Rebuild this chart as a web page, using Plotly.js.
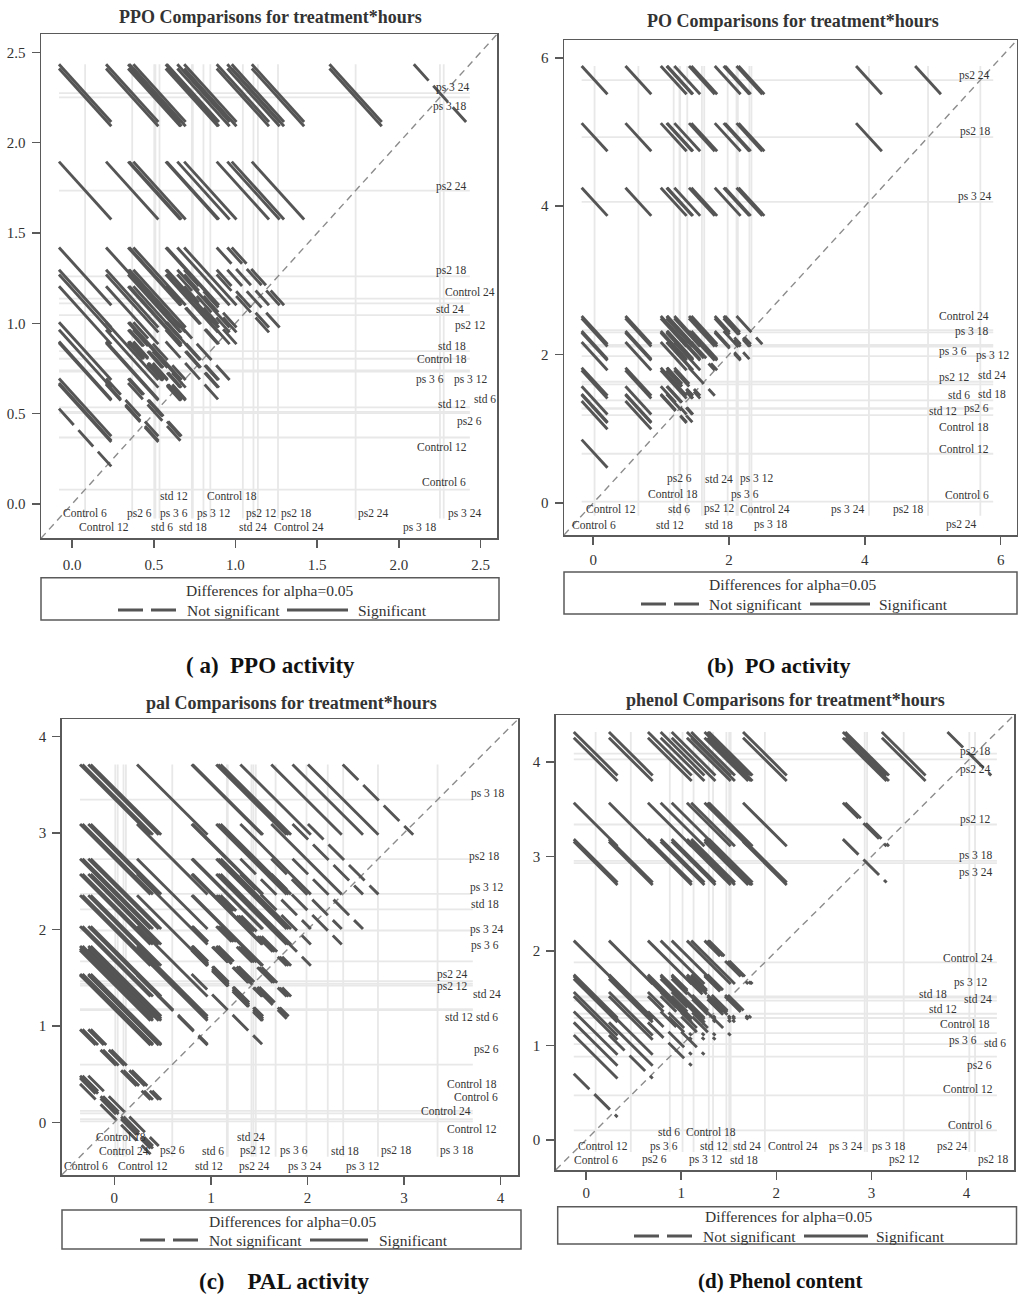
<!DOCTYPE html>
<html><head><meta charset="utf-8">
<script src="https://cdn.plot.ly/plotly-3.0.1.min.js"></script>
<style>html,body{margin:0;padding:0;background:#fff}#chart{width:1018px;height:1296px}</style>
</head><body><div id="chart"></div>
<script>
// ---------- data (LS-means per treatment*hours level) ----------
const levels = ['Control 6','Control 12','Control 18','Control 24','ps2 6','ps2 12','ps2 18','ps2 24',
                'ps 3 6','ps 3 12','ps 3 18','ps 3 24','std 6','std 12','std 18','std 24'];
const ppoMeans    = [0.08, 0.368, 0.804, 1.137, 0.503, 1.045, 1.26, 1.735, 0.739, 0.733, 2.251, 2.274, 0.51, 0.535, 0.846, 1.11];
const poMeans     = [0.02, 0.665, 1.185, 2.33, 1.28, 1.635, 4.93, 5.70, 2.13, 2.11, 2.30, 4.06, 1.385, 1.27, 1.60, 1.98];
const palMeans    = [0.095, 0.01, 0.12, 0.035, 0.60, 1.44, 2.73, 1.465, 1.67, 2.37, 3.347, 1.99, 1.165, 1.175, 2.21, 1.42];
const phenolMeans = [0.10, 0.47, 1.29, 1.88, 0.88, 3.34, 4.09, 4.03, 1.13, 1.505, 2.955, 2.93, 1.014, 1.335, 1.475, 1.52];
// half-width of the 95% confidence interval of a difference
const ppoCI = 0.32, poCI = 0.38, palCI = 0.73, phenolCI = 0.46;
const titles = ['PPO Comparisons for treatment*hours','PO Comparisons for treatment*hours',
                'pal Comparisons for treatment*hours','phenol Comparisons for treatment*hours'];
const captions = ['(\u00a0a)\u00a0\u00a0PPO activity','(b)\u00a0\u00a0PO activity','(c)\u00a0\u00a0\u00a0\u00a0PAL activity','(d) Phenol content'];
const tickValsA = [0,0.5,1,1.5,2,2.5];
const tickValsB = [0,2,4,6];
const tickValsC = [0,1,2,3,4];
const tickValsD = [0,1,2,3,4];

// ---------- label placement (data coords of each label's centre) ----------
const labelsA = [['ps 3 24',2.325,2.304],['ps 3 18',2.31,2.199],['ps2 24',2.32,1.755],['ps2 18',2.32,1.293],['Control 24',2.433,1.173],['std 24',2.31,1.081],['ps2 12',2.437,0.988],['std 18',2.327,0.877],['Control 18',2.264,0.804],['ps 3 6',2.19,0.687],['ps 3 12',2.437,0.687],['std 6',2.525,0.582],['std 12',2.325,0.554],['ps2 6',2.433,0.456],['Control 12',2.264,0.314],['Control 6',2.278,0.12],
 ['std 12',0.626,0.043],['Control 18',0.977,0.043],
 ['Control 6',0.08,-0.05],['ps2 6',0.412,-0.05],['ps 3 6',0.626,-0.05],['ps 3 12',0.865,-0.05],['ps2 12',1.157,-0.05],['ps2 18',1.375,-0.05],['ps2 24',1.845,-0.05],['ps 3 24',2.402,-0.05],
 ['Control 12',0.198,-0.129],['std 6',0.549,-0.129],['std 18',0.739,-0.129],['std 24',1.106,-0.129],['Control 24',1.386,-0.129],['ps 3 18',2.123,-0.129]];
const labelsB = [['ps2 24',5.613,5.761],['ps2 18',5.623,5.011],['ps 3 24',5.613,4.127],['Control 24',5.466,2.527],['ps 3 18',5.574,2.307],['ps 3 6',5.294,2.046],['ps 3 12',5.873,1.988],['ps2 12',5.319,1.687],['std 24',5.873,1.732],['std 6',5.382,1.462],['std 18',5.873,1.471],['std 12',5.157,1.237],['ps2 6',5.638,1.27],['Control 18',5.466,1.027],['Control 12',5.466,0.735],['Control 6',5.506,0.105],
 ['ps2 6',1.275,0.33],['std 24',1.849,0.33],['ps 3 12',2.403,0.33],['Control 18',1.176,0.128],['ps 3 6',2.231,0.115],
 ['Control 12',0.256,-0.078],['std 6',1.265,-0.078],['ps2 12',1.863,-0.078],['Control 24',2.535,-0.078],['ps 3 24',3.75,-0.088],['ps2 18',4.647,-0.088],
 ['Control 6',0.01,-0.29],['std 12',1.128,-0.29],['std 18',1.849,-0.29],['ps 3 18',2.609,-0.29],['ps2 24',5.418,-0.29]];
const labelsC = [['ps 3 18',3.862,3.406],['ps2 18',3.834,2.76],['ps 3 12',3.858,2.433],['std 18',3.834,2.267],['ps 3 24',3.858,2.001],['ps 3 6',3.834,1.835],['ps2 24',3.506,1.53],['ps2 12',3.506,1.41],['std 24',3.858,1.335],['std 12',3.568,1.093],['std 6',3.858,1.093],['ps2 6',3.858,0.759],['Control 18',3.707,0.396],['Control 6',3.748,0.259],['Control 24',3.437,0.12],['Control 12',3.707,-0.069],
 ['Control 18',0.069,-0.155],['std 24',1.417,-0.155],
 ['Control 24',0.104,-0.294],['ps2 6',0.604,-0.294],['std 6',1.019,-0.294],['ps2 12',1.458,-0.294],['ps 3 6',1.865,-0.294],['std 18',2.39,-0.294],['ps2 18',2.919,-0.294],['ps 3 18',3.541,-0.294],
 ['Control 6',-0.293,-0.456],['Control 12',0.3,-0.456],['std 12',0.984,-0.456],['ps2 24',1.451,-0.456],['ps 3 24',1.969,-0.456],['ps 3 12',2.573,-0.456]];
const labelsD = [['ps2 18',4.095,4.118],['ps2 24',4.095,3.925],['ps2 12',4.095,3.397],['ps 3 18',4.095,3.01],['ps 3 24',4.095,2.833],['Control 24',4.014,1.925],['ps 3 12',4.042,1.661],['std 18',3.649,1.549],['std 24',4.123,1.496],['std 12',3.751,1.39],['Control 18',3.982,1.225],['ps 3 6',3.961,1.056],['std 6',4.305,1.028],['ps2 6',4.14,0.792],['Control 12',4.018,0.535],['Control 6',4.042,0.158],
 ['std 6',0.874,0.081],['Control 18',1.316,0.081],
 ['Control 12',0.182,-0.07],['ps 3 6',0.821,-0.07],['std 12',1.34,-0.07],['std 24',1.691,-0.07],['Control 24',2.175,-0.07],['ps 3 24',2.726,-0.07],['ps 3 18',3.182,-0.07],['ps2 24',3.849,-0.07],
 ['Control 6',0.105,-0.211],['ps2 6',0.719,-0.211],['ps 3 12',1.253,-0.211],['std 18',1.663,-0.211],['ps2 12',3.351,-0.211],['ps2 18',4.288,-0.211]];

// ---------- layout geometry (pixels) ----------
const W = 1018, H = 1296;
const panels = [
  {means: ppoMeans, ci: ppoCI, range: [-0.19, 2.60], box: [41, 34.3, 497, 538.3], ticks: tickValsA, fmt: '.1f', labels: labelsA, xso: 4,
   title: [270.8, 17], cap: [270, 666], capSize: 23, leg: {box: [41, 577.7, 499, 620], r1: 590, cx: 270, r2: 610, d: [118, 176], t1: 185, s: [287, 348], t2: 356}},
  {means: poMeans, ci: poCI, range: [-0.43, 6.24], box: [564, 40, 1017, 535], ticks: tickValsB, fmt: 'd', labels: labelsB, xso: 2,
   title: [792.7, 21], cap: [779, 666], capSize: 22, leg: {box: [564, 572, 1017, 614], r1: 584, cx: 793, r2: 604, d: [641, 700], t1: 707, s: [810, 870], t2: 877}},
  {means: palMeans, ci: palCI, range: [-0.545, 4.18], box: [61.7, 719.3, 518, 1175], ticks: tickValsC, fmt: 'd', labels: labelsC, xso: 0,
   title: [291.7, 703.3], cap: [284, 1281], capSize: 23, leg: {box: [62, 1210, 521, 1249], r1: 1221.7, cx: 293, r2: 1240, d: [140, 199], t1: 207, s: [310, 368], t2: 377}},
  {means: phenolMeans, ci: phenolCI, range: [-0.32, 4.50], box: [555.7, 715, 1014, 1170], ticks: tickValsD, fmt: 'd', labels: labelsD, xso: 0,
   title: [785.8, 700], cap: [780, 1281], capSize: 21, leg: {box: [557.7, 1206.7, 1016.5, 1244], r1: 1216.7, cx: 789, r2: 1236, d: [634, 693], t1: 701, s: [804, 868], t2: 874}}
];
const px = v => v / W, py = v => 1 - v / H;
const SERIF = 'Liberation Serif, Times New Roman, serif';
const segColor = '#555555', refColor = '#e8e8e8', diagColor = '#8c8c8c';

const traces = [], annotations = [], shapes = [];
const layout = {width: W, height: H, margin: {l: 0, r: 0, t: 0, b: 0}, showlegend: false,
  paper_bgcolor: '#fff', plot_bgcolor: '#fff', font: {family: SERIF, color: '#333'}};

panels.forEach((p, k) => {
  const sfx = k === 0 ? '' : String(k + 1);
  const xa = 'x' + sfx, ya = 'y' + sfx;
  const axBase = {range: p.range, showline: true, mirror: true, linecolor: '#5a5a5a', linewidth: 1.5,
    ticks: 'outside', ticklen: 8, tickwidth: 1.5, tickcolor: '#5a5a5a', showgrid: false, zeroline: false,
    tickvals: p.ticks, tickformat: p.fmt, tickfont: {family: SERIF, size: 15, color: '#333'}, fixedrange: true};
  layout['xaxis' + sfx] = Object.assign({}, axBase, {domain: [px(p.box[0]), px(p.box[2])], anchor: ya, ticklabelstandoff: p.xso});
  layout['yaxis' + sfx] = Object.assign({}, axBase, {domain: [py(p.box[3]), py(p.box[1])], anchor: xa, ticklabelstandoff: 3});

  const m = p.means, h = p.ci / 2;
  const lo = Math.min(...m) - h, hi = Math.max(...m) + h;
  // reference lines at every mean
  const rx = [], ry = [];
  m.forEach(v => { rx.push(lo, hi, null, v, v, null); ry.push(v, v, null, lo, hi, null); });
  traces.push({x: rx, y: ry, xaxis: xa, yaxis: ya, mode: 'lines', hoverinfo: 'skip',
    line: {color: refColor, width: 1.8, simplify: false}});
  // diagonal
  traces.push({x: p.range, y: p.range, xaxis: xa, yaxis: ya, mode: 'lines', hoverinfo: 'skip',
    line: {color: diagColor, width: 1.4, dash: '7px,5px'}});
  // pairwise difference segments
  const sx = [], sy = [], nx = [], ny = [];
  for (let i = 0; i < m.length; i++) for (let j = i + 1; j < m.length; j++) {
    const a = Math.min(m[i], m[j]), b = Math.max(m[i], m[j]);
    const X = [a - h, a + h, null], Y = [b + h, b - h, null];
    if (b - a > p.ci) { sx.push(...X); sy.push(...Y); } else { nx.push(...X); ny.push(...Y); }
  }
  traces.push({x: sx, y: sy, xaxis: xa, yaxis: ya, mode: 'lines', hoverinfo: 'skip',
    line: {color: segColor, width: 2.9, simplify: false}});
  traces.push({x: nx, y: ny, xaxis: xa, yaxis: ya, mode: 'lines', hoverinfo: 'skip',
    line: {color: segColor, width: 2.9, dash: '22px,7px', simplify: false}});

  // level labels
  p.labels.forEach(l => annotations.push({text: l[0], x: l[1], y: l[2], xref: xa, yref: ya,
    showarrow: false, xanchor: 'center', yanchor: 'middle', font: {family: SERIF, size: 11.5, color: '#333'}}));

  // title and caption
  annotations.push({text: '<b>' + titles[k] + '</b>', x: px(p.title[0]), y: py(p.title[1]), xref: 'paper', yref: 'paper',
    showarrow: false, xanchor: 'center', yanchor: 'middle', font: {family: SERIF, size: 18, color: '#333'}});
  annotations.push({text: '<b>' + captions[k] + '</b>', x: px(p.cap[0]), y: py(p.cap[1]), xref: 'paper', yref: 'paper',
    showarrow: false, xanchor: 'center', yanchor: 'middle', font: {family: SERIF, size: p.capSize, color: '#111'}});

  // legend box
  const L = p.leg;
  shapes.push({type: 'rect', xref: 'paper', yref: 'paper', x0: px(L.box[0]), x1: px(L.box[2]), y0: py(L.box[3]), y1: py(L.box[1]),
    line: {color: '#5a5a5a', width: 1.5}, fillcolor: 'rgba(0,0,0,0)'});
  annotations.push({text: 'Differences for alpha=0.05', x: px(L.cx), y: py(L.r1), xref: 'paper', yref: 'paper',
    showarrow: false, xanchor: 'center', yanchor: 'middle', font: {family: SERIF, size: 15.5, color: '#333'}});
  shapes.push({type: 'line', xref: 'paper', yref: 'paper', x0: px(L.d[0]), x1: px(L.d[1]), y0: py(L.r2), y1: py(L.r2),
    line: {color: segColor, width: 3, dash: '25px,8px'}});
  shapes.push({type: 'line', xref: 'paper', yref: 'paper', x0: px(L.s[0]), x1: px(L.s[1]), y0: py(L.r2), y1: py(L.r2),
    line: {color: segColor, width: 3}});
  annotations.push({text: 'Not significant', x: px(L.t1), y: py(L.r2), xref: 'paper', yref: 'paper',
    showarrow: false, xanchor: 'left', yanchor: 'middle', font: {family: SERIF, size: 15.5, color: '#333'}});
  annotations.push({text: 'Significant', x: px(L.t2), y: py(L.r2), xref: 'paper', yref: 'paper',
    showarrow: false, xanchor: 'left', yanchor: 'middle', font: {family: SERIF, size: 15.5, color: '#333'}});
});
layout.annotations = annotations;
layout.shapes = shapes;
Plotly.newPlot('chart', traces, layout, {staticPlot: true, displayModeBar: false});
</script>
</body></html>
